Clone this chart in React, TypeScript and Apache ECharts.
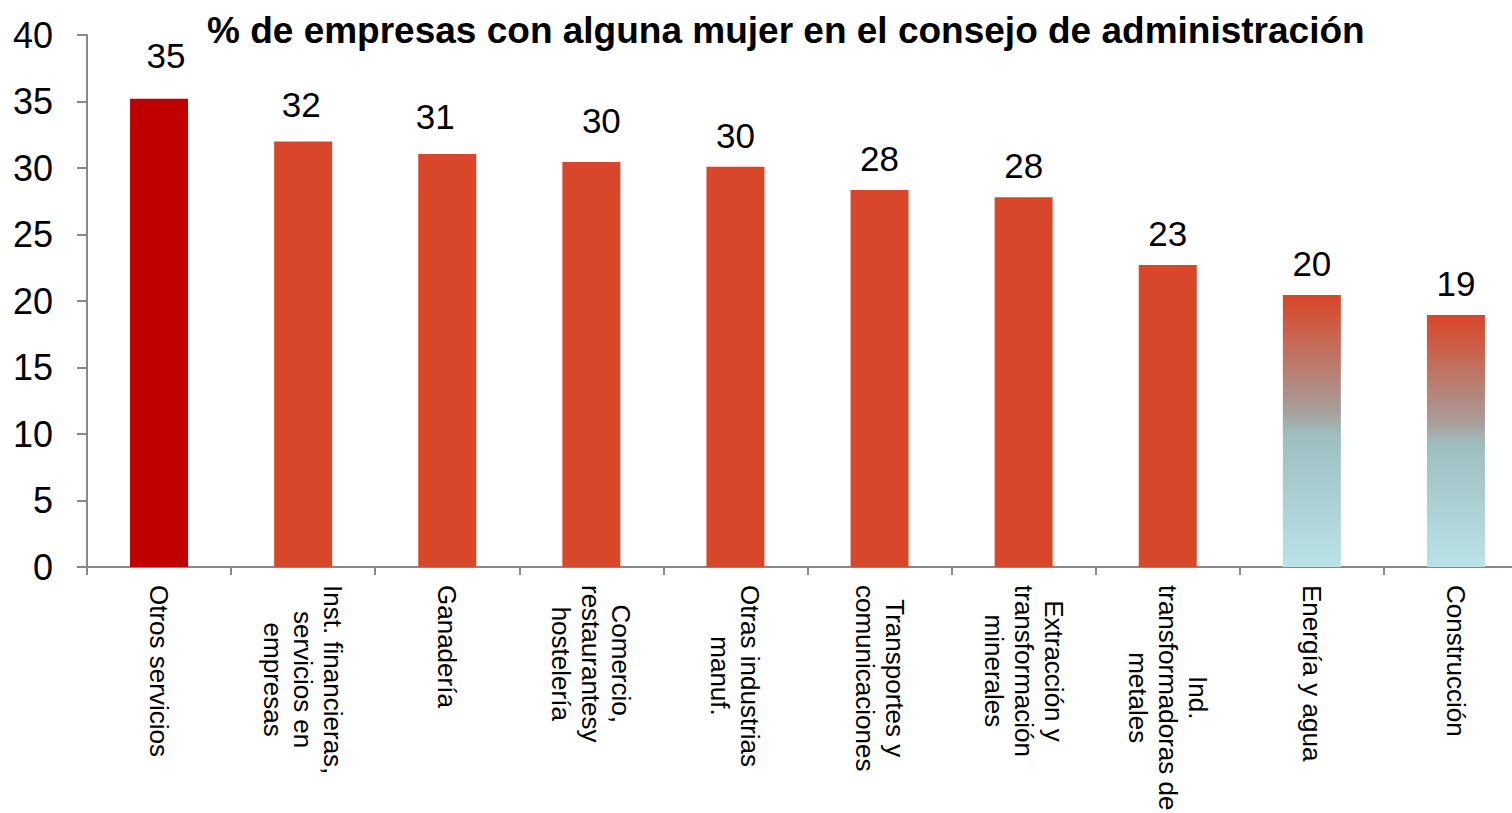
import React, { useEffect, useRef } from "react";
import * as echarts from "echarts";

const categories = [
  "Otros servicios",
  "Inst. financieras,\nservicios en\nempresas",
  "Ganadería",
  "Comercio,\nrestaurantesy\nhostelería",
  "Otras industrias\nmanuf.",
  "Transportes y\ncomunicaciones",
  "Extracción y\ntransformación\nminerales",
  "Ind.\ntransformadoras de\nmetales",
  "Energía y agua",
  "Construcción",
];
const values = [35.2, 32.0, 31.05, 30.45, 30.1, 28.35, 27.8, 22.7, 20.45, 18.95];
const yTicks = [0, 5, 10, 15, 20, 25, 30, 35, 40];
const titleText = "% de empresas con alguna mujer en el consejo de administración";

const FONT = "'Liberation Sans', Arial, sans-serif";

export default function App() {
  const ref = useRef<HTMLDivElement>(null);
  useEffect(() => {
    if (!ref.current) return;
    const chart = echarts.init(ref.current, null, { renderer: "svg" });
    const red = "#D9472B";
    const gradient = new echarts.graphic.LinearGradient(0, 0, 0, 1, [
      { offset: 0, color: "#DA4527" },
      { offset: 0.42, color: "#A89C98" },
      { offset: 0.52, color: "#9DBFC2" },
      { offset: 1, color: "#B9E3E8" },
    ]);
    const nudges: Record<number, [number, number]> = {
      0: [7, -12],
      1: [-2, -5],
      2: [-12, -6],
      3: [10, -10],
    };
    const data = values.map((v, i) => ({
      value: v,
      itemStyle: { color: i === 0 ? "#C00000" : i >= 8 ? gradient : red },
      label: { offset: nudges[i] || [0, 0] },
    }));
    chart.setOption({
      animation: false,
      title: {
        text: titleText,
        left: 202,
        top: 7,
        textStyle: { fontFamily: FONT, fontSize: 37, fontWeight: "bold", color: "#000" },
      },
      grid: {
        left: 87,
        top: 35,
        bottom: 246,
        right: -16,
        containLabel: false,
        outerBoundsMode: "none",
      },
      xAxis: {
        type: "category",
        data: categories,
        axisLine: { lineStyle: { color: "#888", width: 2 } },
        axisTick: { show: true, length: 8, lineStyle: { color: "#888", width: 2 } },
        axisLabel: {
          rotate: -90,
          interval: 0,
          margin: 18,
          color: "#000",
          fontFamily: FONT,
          fontSize: 26,
          lineHeight: 30,
          formatter: (val: string) =>
            val.split("\n").map((l) => `{c|${l}}`).join("\n"),
          rich: {
            c: { align: "center", fontFamily: FONT, fontSize: 26, lineHeight: 30, color: "#000" },
          },
        },
      },
      yAxis: {
        type: "value",
        min: yTicks[0],
        max: yTicks[yTicks.length - 1],
        interval: 5,
        splitLine: { show: false },
        axisLine: { show: true, lineStyle: { color: "#888", width: 2 } },
        axisTick: { show: true, length: 10, lineStyle: { color: "#888", width: 2 } },
        axisLabel: { margin: 34, color: "#000", fontFamily: FONT, fontSize: 36 },
      },
      series: [
        {
          type: "bar",
          data,
          barWidth: 58,
          label: {
            show: true,
            position: "top",
            distance: 14,
            color: "#000",
            fontFamily: FONT,
            fontSize: 35,
            formatter: (p: any) => String(Math.round(p.value)),
          },
        },
      ],
    });
    return () => chart.dispose();
  }, []);
  return (
    <div
      ref={ref}
      style={{ position: "fixed", left: 0, top: 0, width: 1512, height: 813, background: "#fff" }}
    />
  );
}
